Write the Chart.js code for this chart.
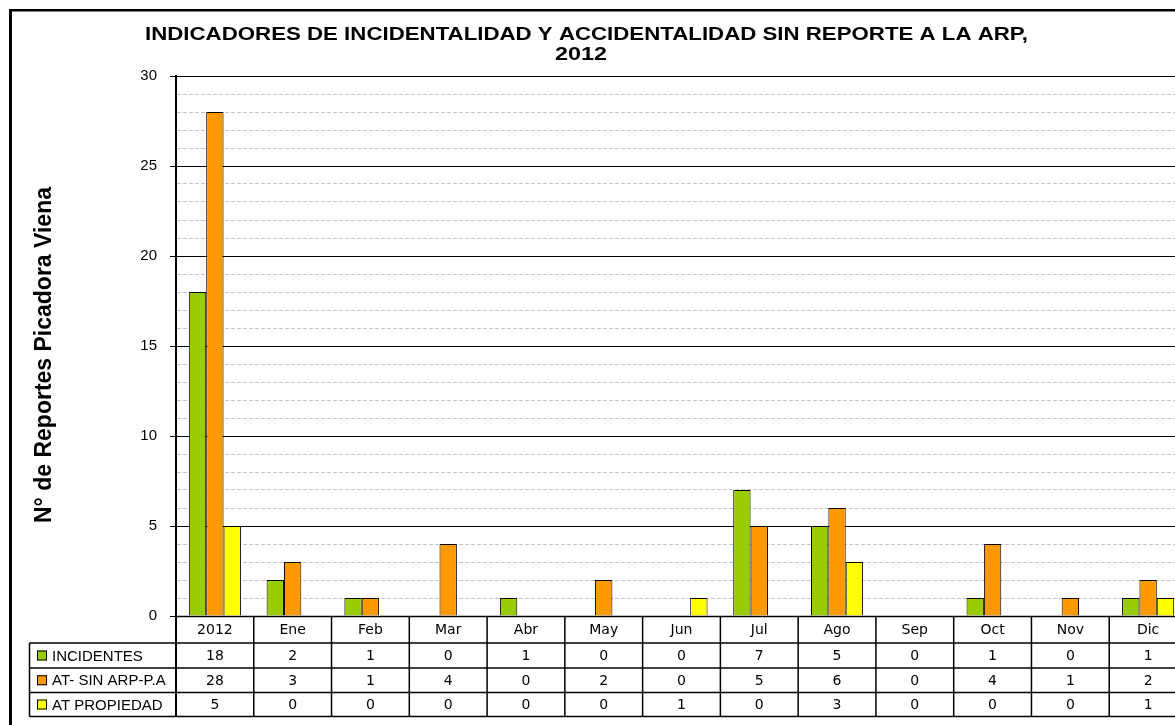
<!DOCTYPE html>
<html>
<head>
<meta charset="utf-8">
<script src="https://cdn.jsdelivr.net/npm/chart.js@4.4.1/dist/chart.umd.min.js"></script>
<style>
html,body{margin:0;padding:0;background:#fff;overflow:hidden;}
#wrap{position:absolute;left:0;top:0;width:1200px;height:725px;}
</style>
</head>
<body>
<div id="wrap"><canvas id="c"></canvas></div>
<script>
const titleLines = ['INDICADORES DE INCIDENTALIDAD Y ACCIDENTALIDAD SIN REPORTE A LA ARP,', '2012'];
const yAxisTitle = 'N° de Reportes Picadora Viena';
const categories = ['2012','Ene','Feb','Mar','Abr','May','Jun','Jul','Ago','Sep','Oct','Nov','Dic'];
const seriesNames = ['INCIDENTES','AT- SIN ARP-P.A','AT PROPIEDAD'];
const incidentes = [18,2,1,0,1,0,0,7,5,0,1,0,1];
const atSinArp = [28,3,1,4,0,2,0,5,6,0,4,1,2];
const atPropiedad = [5,0,0,0,0,0,1,0,3,0,0,0,1];
const seriesColors = ['#99cc00','#ff9900','#ffff00'];
const seriesValues = [incidentes, atSinArp, atPropiedad];

const decorPlugin = {
  id: 'decor',
  afterDraw(chart) {
    const ctx = chart.ctx;
    const ca = chart.chartArea;
    const xs = chart.scales.x;
    const n = categories.length;
    const w = (ca.right - ca.left) / n;
    ctx.save();
    // outer frame
    ctx.fillStyle = '#000';
    ctx.fillRect(9, 9, 3, 720);
    ctx.fillRect(9, 9, 1200, 2.5);

    // title (horizontally stretched like the original)
    ctx.fillStyle = '#000';
    ctx.font = 'bold 18px "Liberation Sans", Arial, sans-serif';
    ctx.textBaseline = 'alphabetic';
    const m = ctx.measureText(titleLines[0]).width;
    const sx = 883 / m;
    ctx.save();
    ctx.translate(145, 39.5);
    ctx.scale(sx, 1);
    ctx.textAlign = 'left';
    ctx.fillText(titleLines[0], 0, 0);
    ctx.restore();
    ctx.save();
    ctx.translate(581, 59.5);
    ctx.scale(sx * 1.05, 1);
    ctx.textAlign = 'center';
    ctx.fillText(titleLines[1], 0, 0);
    ctx.restore();

    // y axis title
    ctx.save();
    ctx.translate(45, 355);
    ctx.rotate(-Math.PI / 2);
    ctx.font = 'bold 23px "Liberation Sans", Arial, sans-serif';
    ctx.textAlign = 'center';
    ctx.textBaseline = 'middle';
    ctx.fillText(yAxisTitle, 0, 0);
    ctx.restore();

    // data table
    const rows = [616.5, 643, 668, 692.5, 716.5];
    ctx.strokeStyle = '#000';
    ctx.lineWidth = 1.5;
    ctx.beginPath();
    ctx.moveTo(ca.left, rows[0]); ctx.lineTo(1200, rows[0]);
    for (let r = 1; r < rows.length; r++) {
      ctx.moveTo(29.5, rows[r]); ctx.lineTo(1200, rows[r]);
    }
    ctx.moveTo(29.5, rows[1]); ctx.lineTo(29.5, rows[4]);
    for (let i = 1; i <= n; i++) {
      const bx = xs.getPixelForValue(i) - w / 2;
      ctx.moveTo(bx, rows[0]); ctx.lineTo(bx, rows[4]);
    }
    ctx.stroke();
    ctx.lineWidth = 2;
    ctx.beginPath();
    ctx.moveTo(ca.left, ca.bottom); ctx.lineTo(ca.left, rows[4]);
    ctx.stroke();

    ctx.fillStyle = '#000';
    ctx.font = '14px "DejaVu Sans", Verdana, sans-serif';
    ctx.textAlign = 'center';
    ctx.textBaseline = 'middle';
    for (let i = 0; i < n; i++) {
      const cx = xs.getPixelForValue(i);
      ctx.fillText(categories[i], cx, (rows[0] + rows[1]) / 2 + 1);
      for (let s = 0; s < 3; s++) {
        ctx.fillText(String(seriesValues[s][i]), cx, (rows[s + 1] + rows[s + 2]) / 2 + 1);
      }
    }
    // legend keys
    ctx.font = '15px "Liberation Sans", Arial, sans-serif';
    ctx.textAlign = 'left';
    for (let s = 0; s < 3; s++) {
      const cy = (rows[s + 1] + rows[s + 2]) / 2;
      ctx.fillStyle = seriesColors[s];
      ctx.fillRect(37, cy - 5, 10, 10);
      ctx.lineWidth = 1;
      ctx.strokeStyle = '#000';
      ctx.strokeRect(37.5, cy - 4.5, 9, 9);
      ctx.fillStyle = '#000';
      ctx.fillText(seriesNames[s], 52, cy + 1);
    }
    ctx.restore();
  }
};

new Chart(document.getElementById('c'), {
  type: 'bar',
  data: {
    labels: categories,
    datasets: seriesNames.map((name, s) => ({
      label: name,
      data: seriesValues[s],
      backgroundColor: seriesColors[s],
      borderColor: '#000',
      borderWidth: 1,
      borderSkipped: 'bottom',
      categoryPercentage: 0.67,
      barPercentage: 1.0
    }))
  },
  options: {
    responsive: true,
    maintainAspectRatio: false,
    animation: false,
    layout: { padding: { left: 0, right: 13, top: 76, bottom: 109 } },
    plugins: { legend: { display: false }, tooltip: { enabled: false }, title: { display: false } },
    scales: {
      x: { display: false, offset: true },
      y: {
        min: 0, max: 30,
        afterFit(scale) { scale.width = 176; },
        ticks: {
          stepSize: 1,
          autoSkip: false,
          padding: 13,
          color: '#000',
          font: { family: '"Liberation Sans", Arial, sans-serif', size: 15 },
          callback: (v) => (v % 5 === 0 ? String(v) : '')
        },
        grid: {
          tickLength: 6,
          color: (c) => (c.tick && c.tick.value % 5 === 0 ? '#000' : '#c4c4c4'),
          tickColor: (c) => (c.tick && c.tick.value % 5 === 0 ? '#000' : 'rgba(0,0,0,0)'),
          lineWidth: 1
        },
        border: {
          color: '#000',
          width: 2,
          dash: (c) => (c.tick && c.tick.value % 5 === 0 ? [] : [4, 2])
        }
      }
    }
  },
  plugins: [decorPlugin]
});
</script>
</body>
</html>
